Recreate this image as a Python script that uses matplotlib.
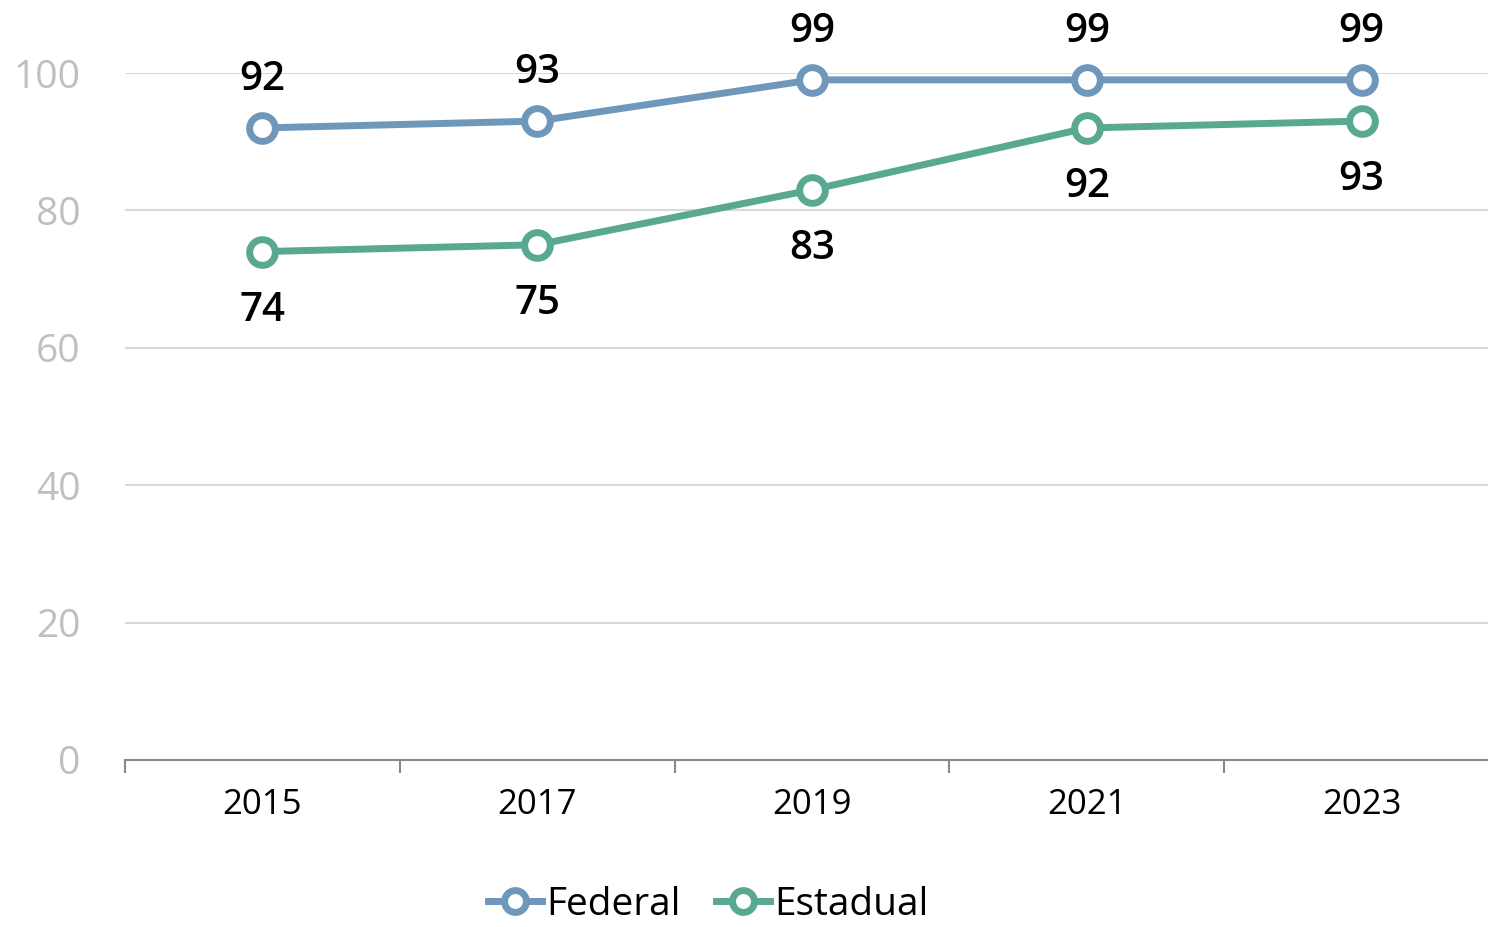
import matplotlib
matplotlib.use("Agg")
import matplotlib.pyplot as plt
from matplotlib.ticker import FixedLocator

years = ["2015", "2017", "2019", "2021", "2023"]
federal = [92, 93, 99, 99, 99]
estadual = [74, 75, 83, 92, 93]

plt.rcParams["font.family"] = ["Open Sans", "DejaVu Sans"]

fig = plt.figure(figsize=(14.88, 9.27), dpi=100)
ax = fig.add_axes([125 / 1488, 1 - 760 / 927, 1374 / 1488, (760 - 73) / 927])

x = list(range(len(years)))
blue = "#6F97BA"
green = "#58A892"

for vals, color, name, off in [(federal, blue, "Federal", 48),
                               (estadual, green, "Estadual", -59)]:
    ax.plot(x, vals, color=color, lw=5, marker="o", ms=18.5, mfc="white",
            mec=color, mew=5, label=name, zorder=3, clip_on=False)
    for xi, v in zip(x, vals):
        ax.annotate(str(v), (xi, v), xytext=(0, off), textcoords="offset pixels",
                    ha="center", va="center", fontsize=29, fontweight="semibold",
                    color="black", annotation_clip=False)

ax.set_xlim(-0.5, 4.5)
ax.set_ylim(0, 100)
ax.set_yticks([0, 20, 40, 60, 80, 100])
ax.tick_params(axis="y", length=0, pad=32, labelsize=28, labelcolor="#BFBFBF")
for yv in [20, 40, 60, 80, 100]:
    ax.axhline(yv, color="#D9D9D9", lw=1.5, zorder=1)

ax.xaxis.set_major_locator(FixedLocator([-0.5, 0.5, 1.5, 2.5, 3.5, 4.5]))
ax.xaxis.set_major_formatter(plt.NullFormatter())
ax.xaxis.set_minor_locator(FixedLocator(x))
ax.set_xticklabels(years, minor=True)
ax.tick_params(axis="x", which="major", length=9, width=1.5, color="#898989", direction="out")
ax.tick_params(axis="x", which="minor", length=0, pad=20, labelsize=25, labelcolor="black")

for s in ["top", "right", "left"]:
    ax.spines[s].set_visible(False)
ax.spines["bottom"].set_color("#898989")
ax.spines["bottom"].set_linewidth(1.5)

fig.legend(loc="center", bbox_to_anchor=(0.476, 1 - 905 / 927), ncol=2, frameon=False,
           fontsize=28, handlelength=1.4, handletextpad=0.1, columnspacing=0.9,
           markerscale=0.85, borderpad=0.1)

fig.savefig("out.png", dpi=100)
